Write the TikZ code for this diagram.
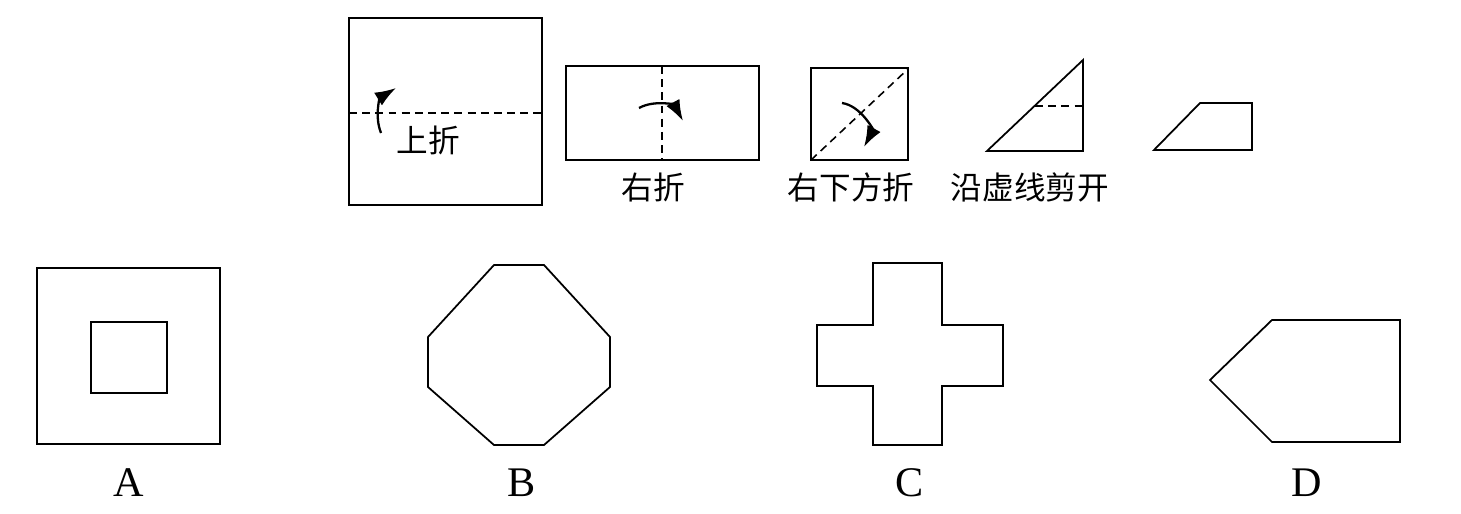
\documentclass[tikz,border=0pt]{standalone}
\usepackage{fontspec}
\setmainfont{Liberation Serif}
\newfontfamily\cjk{Noto Sans CJK SC}
\usetikzlibrary{arrows.meta, positioning}

\begin{document}
\begin{tikzpicture}[x=0.02cm, y=-0.02cm, line width=1pt,
    foldline/.style={line width=0.9pt, dash pattern=on 4.5pt off 3pt},
    foldarrow/.style={line width=1.3pt, -{Latex[length=4.2mm, width=3mm]}},
    steptext/.style={font=\cjk\fontsize{18}{20}\selectfont, inner sep=0pt},
    choice/.style={font=\fontsize{24}{26}\selectfont, inner sep=0pt}]
    \useasboundingbox (0,0) rectangle (1461,514);

    % Step 1: fold up
    \draw (349,18) rectangle (542,205);
    \draw[foldline] (349,113) -- (542,113);
    \coordinate (upS) at (381,133);
    \coordinate (upE) at (396,88);
    \draw[foldarrow] (upS) to[bend left=40] (upE);
    \node[steptext] (upT) at (428,140) {上折};

    % Step 2: fold right
    \draw (566,66) rectangle (759,160);
    \draw[foldline] (662,66) -- (662,160);
    \coordinate (rtS) at (639,108);
    \coordinate (rtE) at (683,121);
    \draw[foldarrow] (rtS) to[bend left=45] (rtE);
    \node[steptext] (rtT) at (653,187) {右折};

    % Step 3: fold to lower right
    \draw (811,68) rectangle (908,160);
    \draw[foldline] (811,160) -- (908,69);
    \coordinate (drS) at (842,103);
    \coordinate (drE) at (864,147);
    \draw[foldarrow] (drS) to[bend left=55] (drE);
    \node[steptext] (drT) at (851,187) {右下方折};

    % Step 4: cut along dashed line
    \draw (987,151) -- (1083,60) -- (1083,151) -- cycle;
    \draw[foldline] (1035,106) -- (1083,106);
    \node[steptext] (cutT) at (1030,187) {沿虚线剪开};

    % Step 5: piece that is cut off
    \draw (1154,150) -- (1200,103) -- (1252,103) -- (1252,150) -- cycle;

    % Answer A
    \draw (37,268) rectangle (220,444);
    \draw (91,322) rectangle (167,393);
    \node[choice] (optA) at (129,483) {A};

    % Answer B
    \draw (494,265) -- (544,265) -- (610,337) -- (610,387) -- (544,445)
        -- (494,445) -- (428,387) -- (428,337) -- cycle;
    \node[choice] (optB) at (522,483) {B};

    % Answer C
    \draw (873,263) -- (942,263) -- (942,325) -- (1003,325) -- (1003,386)
        -- (942,386) -- (942,445) -- (873,445) -- (873,386) -- (817,386)
        -- (817,325) -- (873,325) -- cycle;
    \node[choice] (optC) at (910,483) {C};

    % Answer D
    \draw (1210,380) -- (1272,320) -- (1400,320) -- (1400,442) -- (1272,442) -- cycle;
    \node[choice] (optD) at (1307,483) {D};
\end{tikzpicture}
\end{document}
